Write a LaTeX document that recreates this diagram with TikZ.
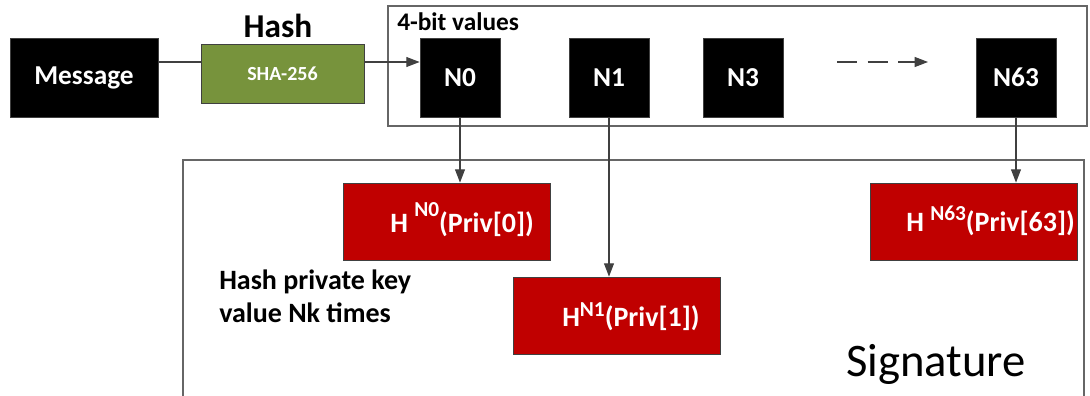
\documentclass[tikz,border=0pt]{standalone}
\usepackage{fontspec}
\setmainfont{Carlito}
\usetikzlibrary{arrows.meta}
\definecolor{olivebox}{HTML}{77933C}
\definecolor{redbox}{HTML}{C00000}
\definecolor{edge}{HTML}{404040}
\newcommand\supr[2]{\raisebox{#1}{\fontsize{16}{16}\selectfont #2}}
\tikzset{
  blk/.style={draw=edge, line width=0.6pt, fill=black, text=white, font=\fontsize{20.5}{24}\selectfont\bfseries, inner sep=0pt},
  grn/.style={draw=edge, line width=0.6pt, fill=olivebox, text=white, font=\fontsize{15}{18}\selectfont\bfseries, inner sep=0pt},
  rbox/.style={draw=edge, line width=0.6pt, fill=redbox, inner sep=0pt, minimum width=155.25pt, minimum height=57.75pt},
  rtext/.style={text=white, font=\fontsize{21}{24}\selectfont\bfseries, inner sep=0pt, anchor=base west},
  frame/.style={draw=edge!80, line width=0.9pt},
  conn/.style={draw=edge, line width=0.8pt},
  arr/.style={conn, -{Triangle[length=10pt,width=7.5pt]}},
}
\begin{document}
\begin{tikzpicture}[x=0.75pt,y=-0.75pt]
\useasboundingbox (0,0) rectangle (1090,396);
% frames
\draw[frame] (388,6) rectangle (1087,126);
\draw[frame] (183,400) -- (183,160) -- (1084,160) -- (1084,400);
% top row
\node[blk, minimum width=111pt, minimum height=59.25pt] (msg) at (84,77.5) {Message};
\node[grn, minimum width=122.25pt, minimum height=44.25pt] (sha) at (282.5,73.5) {SHA-256};
\node[font=\fontsize{25}{28}\selectfont\bfseries, anchor=base, inner sep=0pt] (hashlbl) at (278,37) {Hash};
\node[font=\fontsize{19}{22}\selectfont\bfseries, anchor=base west, inner sep=0pt] (bits) at (397,31) {4-bit values};
\node[blk, minimum width=60pt, minimum height=59.25pt] (n0) at (460,77.5) {N0};
\node[blk, minimum width=60pt, minimum height=59.25pt] (n1) at (609,77.5) {N1};
\node[blk, minimum width=60pt, minimum height=59.25pt] (n3) at (743,77.5) {N3};
\node[blk, minimum width=60pt, minimum height=59.25pt] (n63) at (1016,77.5) {N63};
\coordinate (lineY) at (0,62);
\coordinate (dashA) at (837,62);
\coordinate (dashB) at (928,62);
\draw[conn] (msg.east |- lineY) -- (sha.west |- lineY);
\draw[arr] (sha.east |- lineY) -- (n0.west |- lineY);
\draw[arr, dash pattern=on 15pt off 8pt] (dashA) -- (dashB);
% signature boxes
\node[rbox] (h0) at (446.5,221.5) {};
\node[rbox] (h1) at (616.5,315.5) {};
\node[rbox] (h63) at (973.5,221.5) {};
\node[rtext] (t0) at (390,232) {H \supr{12pt}{N0}(Priv[0])};
\node[rtext] (t1) at (562,326) {H\supr{7.5pt}{N1}(Priv[1])};
\node[rtext] (t63) at (906,231) {H \supr{8pt}{N63}(Priv[63])};
\draw[arr] (n0.south) -- (n0.south |- h0.north);
\draw[arr] (n1.south) -- (n1.south |- h1.north);
\draw[arr] (n63.south) -- (n63.south |- h63.north);
\node[font=\fontsize{21}{24}\selectfont\bfseries, anchor=base west, inner sep=0pt] (note1) at (219,289) {Hash private key};
\node[font=\fontsize{21}{24}\selectfont\bfseries, anchor=base west, inner sep=0pt] (note2) at (219,322) {value Nk times};
\node[font=\fontsize{35}{38}\selectfont, anchor=base west, inner sep=0pt] (sig) at (846,376) {Signature};
\end{tikzpicture}
\end{document}
